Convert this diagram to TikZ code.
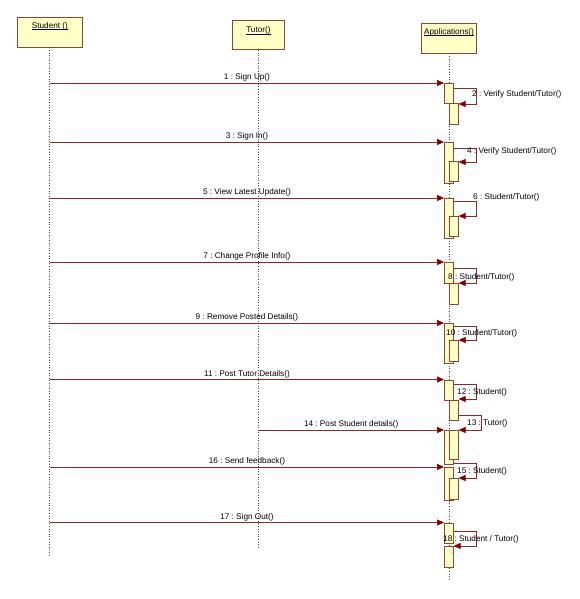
\documentclass[tikz,border=0pt]{standalone}
\usepackage{fontspec}
\setmainfont{Liberation Sans}
\usetikzlibrary{arrows.meta}
\definecolor{boxborder}{RGB}{140,70,50}
\definecolor{boxfill}{RGB}{255,255,198}
\definecolor{msgline}{RGB}{140,40,40}
\definecolor{msghead}{RGB}{128,0,0}
\definecolor{lifegray}{RGB}{70,70,70}
\newcommand\mylblfont{\fontsize{8.2}{10}\selectfont}
\newcommand\myul[1]{\underline{\raisebox{0pt}[\height][0pt]{#1}}}
\tikzset{
  headbox/.style={draw=boxborder, fill=boxfill, line width=0.8pt, inner sep=0pt, anchor=north west},
  headtxt/.style={font=\mylblfont, inner sep=0pt, anchor=base},
  actbox/.style={draw=boxborder, fill=boxfill, line width=0.6pt, inner sep=0pt, minimum width=9pt, anchor=north west},
  lifeline/.style={draw=lifegray, line width=0.9pt, dash pattern=on 1pt off 1.6pt},
  msg/.style={draw=msgline, line width=0.7pt, -{Triangle[length=7pt,width=6pt,fill=msghead,color=msghead]}},
  lbl/.style={font=\mylblfont, inner sep=1.2pt},
  sidelbl/.style={font=\mylblfont, inner sep=0pt, anchor=west}
}
\begin{document}
\frenchspacing
\begin{tikzpicture}[x=1pt,y=-1pt]
\useasboundingbox (0,0) rectangle (580,599);
% heads
\node[headbox, minimum width=64.4pt, minimum height=29.7pt] (stu) at (17.3,17) {};
\node[headbox, minimum width=51.4pt, minimum height=29.3pt] (tut) at (232.3,20) {};
\node[headbox, minimum width=54.7pt, minimum height=29.4pt] (app) at (421.3,23.3) {};
\node[headtxt] (stutxt) at (stu.north |- 0,28.3) {\myul{Student ()}};
\node[headtxt] (tuttxt) at (tut.north |- 0,32.6) {\myul{Tutor()}};
\node[headtxt] (apptxt) at (app.north |- 0,34.3) {\myul{Applications()}};
% lifeline ends
\coordinate (stuend) at (stu.south |- 0,555);
\coordinate (tutend) at (tut.south |- 0,549);
\coordinate (append) at (app.south |- 0,579);
\draw[lifeline] (stu.south) -- (stuend);
\draw[lifeline] (tut.south) -- (tutend);
\draw[lifeline] (app.south) -- (append);
% activations
\node[actbox, minimum height=20pt]   (a1)  at (444,83) {};
\node[actbox, minimum height=20.5pt] (n2)  at (449,103.5) {};
\node[actbox, minimum height=41pt]   (a3)  at (444,142) {};
\node[actbox, minimum height=20pt]   (n4)  at (449,161) {};
\node[actbox, minimum height=40pt]   (a5)  at (444,198) {};
\node[actbox, minimum height=20pt]   (n6)  at (449,216) {};
\node[actbox, minimum height=20.5pt] (a7)  at (444,262) {};
\node[actbox, minimum height=20.5pt] (n8)  at (449,283) {};
\node[actbox, minimum height=39.5pt] (a9)  at (444,323) {};
\node[actbox, minimum height=21pt]   (n10) at (449,340) {};
\node[actbox, minimum height=20pt]   (a11) at (444,379.5) {};
\node[actbox, minimum height=20pt]   (n12) at (449,400) {};
\node[actbox, minimum height=33.5pt] (a14) at (444,430) {};
\node[actbox, minimum height=29pt]   (n13) at (449,430) {};
\node[actbox, minimum height=33pt]   (a16) at (444,467) {};
\node[actbox, minimum height=20.5pt] (n15) at (449,478) {};
\node[actbox, minimum height=20pt]   (a17) at (444,522.5) {};
\node[actbox, minimum height=20.5pt] (b18) at (444,546) {};
% lifeline points for messages
\coordinate (s1)  at (stu.south |- 0,83);
\coordinate (s3)  at (stu.south |- 0,142);
\coordinate (s5)  at (stu.south |- 0,198);
\coordinate (s7)  at (stu.south |- 0,262);
\coordinate (s9)  at (stu.south |- 0,323);
\coordinate (s11) at (stu.south |- 0,379.5);
\coordinate (t14) at (tut.south |- 0,430);
\coordinate (s16) at (stu.south |- 0,467);
\coordinate (s17) at (stu.south |- 0,522.5);
% messages
\draw[msg] (s1)  -- (s1 -| a1.west)   node[midway, above, lbl] {1 : Sign Up()};
\draw[msg] (s3)  -- (s3 -| a3.west)   node[midway, above, lbl] {3 : Sign In()};
\draw[msg] (s5)  -- (s5 -| a5.west)   node[midway, above, lbl] {5 : View Latest Update()};
\draw[msg] (s7)  -- (s7 -| a7.west)   node[midway, above, lbl] {7 : Change Profile Info()};
\draw[msg] (s9)  -- (s9 -| a9.west)   node[midway, above, lbl] {9 : Remove Posted Details()};
\draw[msg] (s11) -- (s11 -| a11.west) node[midway, above, lbl] {11 : Post Tutor Details()};
\draw[msg] (t14) -- (t14 -| a14.west) node[midway, above, lbl] {14 : Post Student details()};
\draw[msg] (s16) -- (s16 -| a16.west) node[midway, above, lbl] {16 : Send feedback()};
\draw[msg] (s17) -- (s17 -| a17.west) node[midway, above, lbl] {17 : Sign Out()};
% self messages
\draw[msg] (a1.east |- 0,88) -- (476,88) -- (476,104) -- (n2.east |- 0,104);
\node[sidelbl] (l2) at (472,94) {2 : Verify Student/Tutor()};
\draw[msg] (a3.east |- 0,148) -- (476,148) -- (476,162) -- (n4.east |- 0,162);
\node[sidelbl] (l4) at (467,151) {4 : Verify Student/Tutor()};
\draw[msg] (a5.east |- 0,201) -- (476,201) -- (476,216) -- (n6.east |- 0,216);
\node[sidelbl] (l6) at (473,197) {6 : Student/Tutor()};
\draw[msg] (a7.east |- 0,268) -- (476,268) -- (476,283) -- (n8.east |- 0,283);
\node[sidelbl] (l8) at (448,277) {8 : Student/Tutor()};
\draw[msg] (a9.east |- 0,326) -- (476,326) -- (476,340) -- (n10.east |- 0,340);
\node[sidelbl] (l10) at (446,333) {10 : Student/Tutor()};
\draw[msg] (a11.east |- 0,384.5) -- (476,384.5) -- (476,399) -- (n12.east |- 0,399);
\node[sidelbl] (l12) at (457,392) {12 : Student()};
\draw[msg] (n12.east |- 0,415) -- (481,415) -- (481,430) -- (n13.north east);
\node[sidelbl] (l13) at (467,423) {13 : Tutor()};
\draw[msg] (a14.east |- 0,463) -- (476,463) -- (476,478) -- (n15.east |- 0,478);
\node[sidelbl] (l15) at (457,471) {15 : Student()};
\draw[msg] (a17.east |- 0,531) -- (476,531) -- (476,546) -- (b18.east |- 0,546);
\node[sidelbl] (l18) at (443,539) {18 : Student / Tutor()};
\end{tikzpicture}
\end{document}
